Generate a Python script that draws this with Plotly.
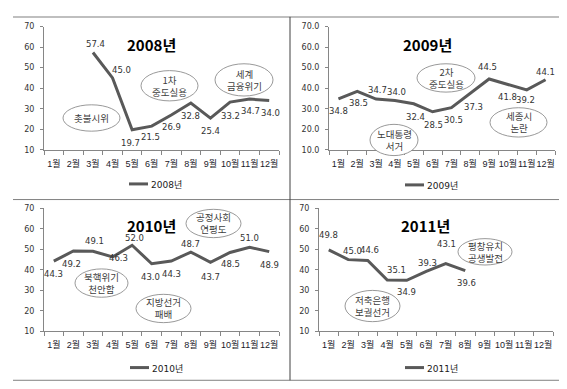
import plotly.graph_objects as go

W, H = 567, 389

# ---------------- data ----------------
months = ["1월", "2월", "3월", "4월", "5월", "6월", "7월", "8월", "9월", "10월", "11월", "12월"]
series_names = ["2008년", "2009년", "2010년", "2011년"]
v2008 = [None, None, 57.4, 45.0, 19.7, 21.5, 26.9, 32.8, 25.4, 33.2, 34.7, 34.0]
v2009 = [34.8, 38.5, 34.7, 34.0, 32.4, 28.5, 30.5, 37.3, 44.5, 41.8, 39.2, 44.1]
v2010 = [44.3, 49.2, 49.1, 46.3, 52.0, 43.0, 44.3, 48.7, 43.7, 48.5, 51.0, 48.9]
v2011 = [49.8, 45.0, 44.6, 35.1, 34.9, 39.3, 43.1, 39.6, None, None, None, None]
y_ticks = [10, 20, 30, 40, 50, 60, 70]
events2008 = ["촛불시위", "1차<br>중도실용", "세계<br>금융위기"]
events2009 = ["2차<br>중도실용", "노대통령<br>서거", "세종시<br>논란"]
events2010 = ["공정사회<br>연평도", "북핵위기<br>천안함", "지방선거<br>패배"]
events2011 = ["평창유치<br>공생발전", "저축은행<br>보궐선거"]

# ---------------- layout / style (pixels) ----------------
# plot rectangles: x0, x1, ytop, ybottom
rects = [(36, 271, 15, 141), (321, 547, 15, 141), (36, 271, 201, 327), (311, 545, 201, 327)]
decimals = [0, 1, 0, 0]
title_pos = [(143, 33), (419, 33), (143, 219), (417, 219)]
legend_pos = [(121, 177), (397, 178), (122, 365), (397, 365)]
# ellipse boxes x0, x1, ytop, ybottom
ell2008 = [(55, 112, 95, 122), (133, 190, 60, 91), (207, 265, 53, 86)]
ell2009 = [(409, 467, 53, 82), (362, 410, 115, 147), (482, 539, 98, 128)]
ell2010 = [(178, 233, 202, 231), (67, 120, 263, 292), (128, 183, 289, 318)]
ell2011 = [(450, 504, 232, 259), (337, 392, 285, 317)]
# data label offsets (dx, dy) in px, dy positive = up
off2008 = [None, None, (3, 9), (9, 8), (-2, -13), (-1, -11), (0, -12), (0, -13), (0, -13), (0, -14), (1, -12), (1, -12)]
off2009 = [(0, -12), (1, -12), (1, 9), (2, 9), (2, -13), (1, -13), (2, -12), (3, -13), (-2, 12), (0, -12), (-1, -10), (0, 8)]
off2010 = [(0, -13), (-2, -13), (2, 10), (6, -1), (2, 7), (-1, -13), (0, -13), (0, 8), (0, -15), (0, -12), (0, 9), (0, -13)]
off2011 = [(0, 15), (4, 9), (2, 10), (9, 10), (0, -12), (1, 8), (1, 20), (1, -12), None, None, None, None]

values = [v2008, v2009, v2010, v2011]
offsets = [off2008, off2009, off2010, off2011]
events = [events2008, events2009, events2010, events2011]
ells = [ell2008, ell2009, ell2010, ell2011]

LINE_COLOR = "#595959"
AXIS_COLOR = "#868686"
NUM_FONT = "DejaVu Sans, Noto Sans CJK KR"
CAT_FONT = "Liberation Sans, Noto Sans CJK KR"
KR_FONT = "Noto Sans CJK KR"


def fx(x):
    return x / W


def fy(y):
    return 1 - y / H


fig = go.Figure()
annotations = []
shapes = []

for i in range(4):
    x0, x1, yt, yb = rects[i]
    sfx = "" if i == 0 else str(i + 1)
    xa, ya = "x" + sfx, "y" + sfx
    fig.add_trace(go.Scatter(
        x=months, y=values[i], mode="lines", name=series_names[i],
        line=dict(color=LINE_COLOR, width=3), xaxis=xa, yaxis=ya,
        showlegend=False, hoverinfo="skip", connectgaps=False))
    fig.update_layout(**{
        "xaxis" + sfx: dict(
            domain=[fx(x0), fx(x1)], anchor=ya, type="category",
            categoryorder="array", categoryarray=months, range=[-0.5, 11.5],
            showline=True, linecolor=AXIS_COLOR, linewidth=1, mirror=False,
            ticks="outside", tickson="boundaries", ticklen=4, tickcolor=AXIS_COLOR,
            showgrid=False, zeroline=False, ticklabelstandoff=5, tickangle=0,
            tickfont=dict(family=CAT_FONT, size=9, color="#1a1a2a")),
        "yaxis" + sfx: dict(
            domain=[fy(yb), fy(yt)], anchor=xa, range=[10, 70],
            tickmode="array", tickvals=y_ticks,
            ticktext=[("{:.%df}" % decimals[i]).format(t) for t in y_ticks],
            showline=True, linecolor=AXIS_COLOR, linewidth=1,
            ticks="outside", ticklen=3, tickcolor=AXIS_COLOR,
            showgrid=False, zeroline=False, ticklabelstandoff=4,
            tickfont=dict(family=NUM_FONT, size=8, color="#333333")),
    })
    # data labels
    for m, v, off in zip(months, values[i], offsets[i]):
        if v is None:
            continue
        annotations.append(dict(
            x=m, y=v, xref=xa, yref=ya, text="{:.1f}".format(v), showarrow=False,
            xshift=off[0], yshift=off[1], xanchor="center", yanchor="middle",
            font=dict(family=NUM_FONT, size=8.5, color="#333333")))
    # title
    tx, ty = title_pos[i]
    annotations.append(dict(
        x=fx(tx), y=fy(ty), xref="paper", yref="paper", text="<b>" + series_names[i] + "</b>",
        showarrow=False, xanchor="center", yanchor="middle",
        font=dict(family=KR_FONT, size=15, color="#000000")))
    # legend key
    lx, ly = legend_pos[i]
    shapes.append(dict(type="line", xref="paper", yref="paper",
                       x0=fx(lx), x1=fx(lx + 19), y0=fy(ly - 1), y1=fy(ly - 1),
                       line=dict(color=LINE_COLOR, width=3)))
    annotations.append(dict(
        x=fx(lx + 20), y=fy(ly), xref="paper", yref="paper", text=series_names[i],
        showarrow=False, xanchor="left", yanchor="middle",
        font=dict(family=NUM_FONT, size=9, color="#1a1a1a")))
    # event ellipses
    for (ex0, ex1, ey0, ey1), txt in zip(ells[i], events[i]):
        shapes.append(dict(type="circle", xref="paper", yref="paper",
                           x0=fx(ex0), x1=fx(ex1), y0=fy(ey1), y1=fy(ey0),
                           line=dict(color="#7f7f7f", width=0.8), fillcolor="white",
                           layer="above"))
        annotations.append(dict(
            x=fx((ex0 + ex1) / 2), y=fy((ey0 + ey1) / 2), xref="paper", yref="paper",
            text=txt, showarrow=False, xanchor="center", yanchor="middle",
            font=dict(family=KR_FONT, size=9.5, color="#404040")))

# frame lines
shapes += [
    dict(type="line", xref="paper", yref="paper", x0=fx(5), x1=fx(557), y0=fy(5), y1=fy(5),
         line=dict(color="#bfbfbf", width=2)),
    dict(type="line", xref="paper", yref="paper", x0=fx(5), x1=fx(557), y0=fy(192), y1=fy(192),
         line=dict(color="#808080", width=1)),
    dict(type="line", xref="paper", yref="paper", x0=fx(5), x1=fx(557), y0=fy(377), y1=fy(377),
         line=dict(color="#808080", width=1)),
    dict(type="line", xref="paper", yref="paper", x0=fx(282), x1=fx(282), y0=fy(5), y1=fy(377),
         line=dict(color="#404040", width=1)),
]

fig.update_layout(
    width=W, height=H, margin=dict(l=0, r=0, t=0, b=0),
    paper_bgcolor="white", plot_bgcolor="white",
    showlegend=False, annotations=annotations, shapes=shapes,
)

fig.write_html("out.html")
